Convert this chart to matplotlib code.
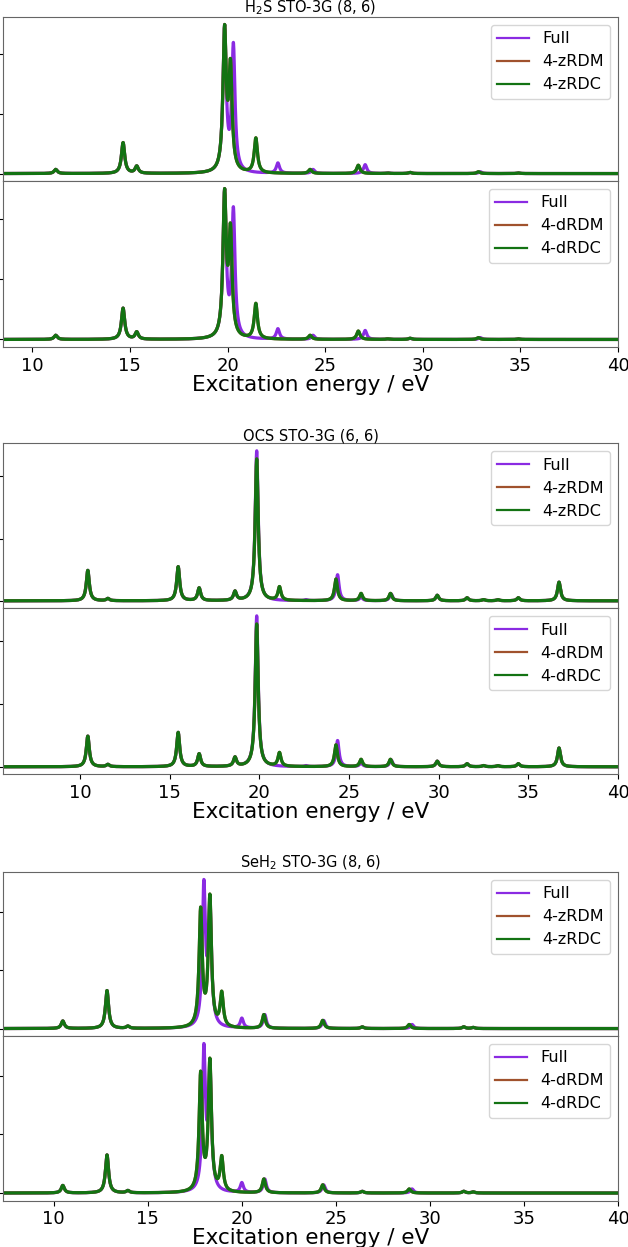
import numpy as np
import matplotlib.pyplot as plt

# Peak positions (eV) and peak heights (arb. units)
h2s_full_e = [11.2, 14.65, 15.35, 19.85, 20.3, 22.58, 24.38, 27.05, 28.2, 29.35, 32.95, 34.9]
h2s_full_h = [0.07, 0.52, 0.13, 2.50, 2.20, 0.18, 0.07, 0.15, 0.01, 0.02, 0.03, 0.01]
h2s_rdc_e = [11.2, 14.65, 15.35, 19.85, 20.15, 21.45, 24.23, 26.7, 28.2, 29.35, 32.85, 34.9]
h2s_rdc_h = [0.07, 0.52, 0.13, 2.50, 1.93, 0.60, 0.07, 0.14, 0.01, 0.02, 0.03, 0.01]

ocs_full_e = [10.43, 11.55, 15.47, 16.64, 18.64, 19.85, 22.6, 24.36, 25.67, 27.35, 29.92, 31.58, 32.5, 33.3, 34.44, 36.71]
ocs_full_h = [0.49, 0.04, 0.55, 0.21, 0.16, 2.41, 0.02, 0.42, 0.06, 0.11, 0.09, 0.05, 0.02, 0.02, 0.05, 0.30]
ocs_rdc_e = [10.43, 11.55, 15.47, 16.64, 18.64, 19.85, 21.12, 24.27, 25.67, 27.31, 29.92, 31.58, 32.5, 33.3, 34.44, 36.71]
ocs_rdc_h = [0.49, 0.04, 0.55, 0.21, 0.16, 2.28, 0.23, 0.35, 0.12, 0.12, 0.09, 0.05, 0.02, 0.02, 0.05, 0.30]

seh2_full_e = [10.48, 12.83, 13.94, 17.98, 18.3, 20.0, 21.22, 24.35, 26.4, 29.05, 31.8, 32.3]
seh2_full_h = [0.13, 0.65, 0.045, 2.55, 2.25, 0.18, 0.24, 0.14, 0.03, 0.07, 0.03, 0.02]
seh2_rdc_e = [10.48, 12.83, 13.94, 17.81, 18.3, 18.93, 21.17, 24.3, 26.4, 28.9, 31.8, 32.3]
seh2_rdc_h = [0.13, 0.65, 0.045, 2.08, 2.30, 0.64, 0.24, 0.14, 0.03, 0.07, 0.03, 0.02]

titles = ['H$_2$S STO-3G (8, 6)', 'OCS STO-3G (6, 6)', 'SeH$_2$ STO-3G (8, 6)']
x_left = [8.5, 5.7, 7.3]
x_right = 40
top_labels = ['Full', '4-zRDM', '4-zRDC']
bottom_labels = ['Full', '4-dRDM', '4-dRDC']

c_full = '#8a2be2'
c_rdm = '#a0522d'
c_rdc = '#137313'
gamma = 0.1  # lorentzian half width


def spectrum(x, energies, heights):
    e = np.asarray(energies)
    h = np.asarray(heights)
    # stick strengths so that the summed curve has the read-off peak heights
    m = 1.0 / (1.0 + ((e[:, None] - e[None, :]) / gamma) ** 2)
    a = np.clip(np.linalg.solve(m, h), 0, None)
    return (a[None, :] / (1.0 + ((x[:, None] - e[None, :]) / gamma) ** 2)).sum(axis=1)


groups = [
    (h2s_full_e, h2s_full_h, h2s_rdc_e, h2s_rdc_h),
    (ocs_full_e, ocs_full_h, ocs_rdc_e, ocs_rdc_h),
    (seh2_full_e, seh2_full_h, seh2_rdc_e, seh2_rdc_h),
]

# panel edges in pixels from the top of the figure
W, H = 628, 1247
panel_px = [(17, 181, 347), (443.3, 608.3, 774.3), (872, 1036, 1200.5)]

fig = plt.figure(figsize=(W / 100, H / 100), dpi=100)

for g, (fe, fh, re, rh) in enumerate(groups):
    y0, ymid, y1 = panel_px[g]
    ax_top = fig.add_axes([3 / W, 1 - ymid / H, 615 / W, (ymid - y0) / H])
    ax_bot = fig.add_axes([3 / W, 1 - y1 / H, 615 / W, (y1 - ymid) / H], sharex=ax_top)
    x = np.linspace(x_left[g], x_right, 4000)
    full = spectrum(x, fe, fh)
    rdc = spectrum(x, re, rh)
    for ax, labels in [(ax_top, top_labels), (ax_bot, bottom_labels)]:
        ax.plot(x, full, color=c_full, lw=2.3, label=labels[0])
        ax.plot(x, rdc, color=c_rdm, lw=2.3, label=labels[1])
        ax.plot(x, rdc, color=c_rdc, lw=2.3, label=labels[2])
        ax.set_yticks([0, 1, 2])
        ax.set_yticklabels([])
        leg = ax.legend(loc='upper right', fontsize=11.5)
        for ln in leg.get_lines():
            ln.set_linewidth(1.6)
        for sp in ax.spines.values():
            sp.set_color('0.4')
        ax.tick_params(labelsize=13)
    ax_top.set_xlim(x_left[g], x_right)
    ax_top.tick_params(axis='x', length=0, labelbottom=False)
    ax_top.set_title(titles[g], fontsize=10.5, pad=0)
    ax_bot.set_xlabel('Excitation energy / eV', fontsize=15.5, labelpad=0)

fig.savefig('out.png', dpi=100)
